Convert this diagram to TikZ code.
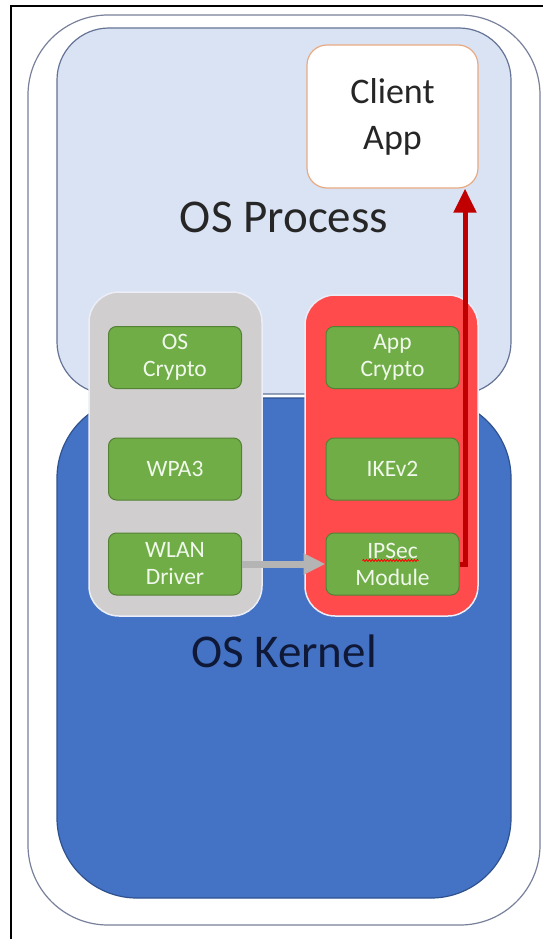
\documentclass[tikz,border=0pt]{standalone}
\usepackage{fontspec}
\setmainfont{Carlito}
\definecolor{outeredge}{RGB}{120,128,155}
\definecolor{procblue}{RGB}{218,227,243}
\definecolor{procedge}{RGB}{100,115,150}
\definecolor{kernblue}{RGB}{68,114,196}
\definecolor{kernedge}{RGB}{47,82,143}
\definecolor{kerntext}{RGB}{15,25,55}
\definecolor{osgray}{RGB}{208,206,206}
\definecolor{ipsecred}{RGB}{255,75,75}
\definecolor{stackedge}{RGB}{235,238,248}
\definecolor{modgreen}{RGB}{112,173,71}
\definecolor{modedge}{RGB}{84,130,53}
\definecolor{modtext}{RGB}{240,248,235}
\definecolor{clientedge}{RGB}{232,170,130}
\definecolor{linkgray}{RGB}{180,180,180}
\definecolor{tunnelred}{RGB}{192,0,0}
\usetikzlibrary{arrows.meta,positioning,decorations.pathmorphing}

\begin{document}
\begin{tikzpicture}[x=1pt,y=-1pt,
  zone/.style={
    rectangle, inner sep=0pt,
    line width=1.2pt
  },
  stack/.style={
    rectangle, rounded corners=30pt, inner sep=0pt,
    minimum width=173pt,
    draw=stackedge, line width=1.5pt
  },
  module/.style={
    rectangle, rounded corners=8pt, inner sep=0pt,
    minimum width=133pt, minimum height=62pt,
    draw=modedge, line width=1pt,
    fill=modgreen,
    font=\fontsize{23.5}{27}\selectfont,
    align=center,
    text=modtext
  },
  zonetext/.style={font=\fontsize{47}{52}\selectfont},
  conn/.style={-{Triangle[length=22pt,width=20pt]}, line width=7pt, draw=linkgray},
  tunnel/.style={-{Triangle[length=24pt,width=22pt]}, line width=5pt, draw=tunnelred}
]
\path[fill=white, use as bounding box] (0,0) rectangle (543,939);
\draw[line width=2pt] (11,939) -- (11,6) -- (543,6);

\node[zone, rounded corners=80pt, draw=outeredge, fill=white,
  minimum width=512pt, minimum height=910pt] (host) at (284,470) {};
\node[zone, rounded corners=52pt, draw=procedge, fill=procblue,
  minimum width=454pt, minimum height=366pt] (process) at (284,211) {};
\node[zone, rounded corners=80pt, draw=kernedge, fill=kernblue,
  minimum width=454pt, minimum height=500pt] (kernel) at (284,648) {};

\node[zonetext, text=black!85] (proclabel) at (284,217) {OS Process};
\node[zonetext, text=kerntext] (kernlabel) at (284,651) {OS Kernel};

\node[rectangle, rounded corners=20pt, draw=clientedge, line width=1.2pt, fill=white,
  minimum width=171pt, minimum height=143pt, align=center,
  font=\fontsize{36}{46}\selectfont, text=black!85] (client) at (392.5,116.5) {Client\\App};

\node[stack, fill=osgray, minimum height=324pt] (osstack) at (175.5,454) {};
\node[stack, fill=ipsecred, minimum height=321pt] (appstack) at (391.5,455.5) {};

\node[module] (oscrypto)  at (175,357.5) {OS\\Crypto};
\node[module] (wpa)       at (175,469)   {WPA3};
\node[module] (wlan)      at (175,564)   {WLAN\\Driver};
\node[module] (appcrypto) at (392.5,357.5) {App\\Crypto};
\node[module] (ike)       at (392.5,469)   {IKEv2};
\node[module] (ipsec)     at (392.5,564)   {IPSec\\Module};

\draw[red, line width=0.8pt, decorate, decoration={snake, amplitude=1pt, segment length=3pt}]
  ([shift={(-30,-3.5)}]ipsec.center) -- ([shift={(26,-3.5)}]ipsec.center);

\draw[conn] (wlan) -- (ipsec);
\draw[tunnel] (ipsec.east) -| ([xshift=72.5pt]client.south);
\end{tikzpicture}
\end{document}
